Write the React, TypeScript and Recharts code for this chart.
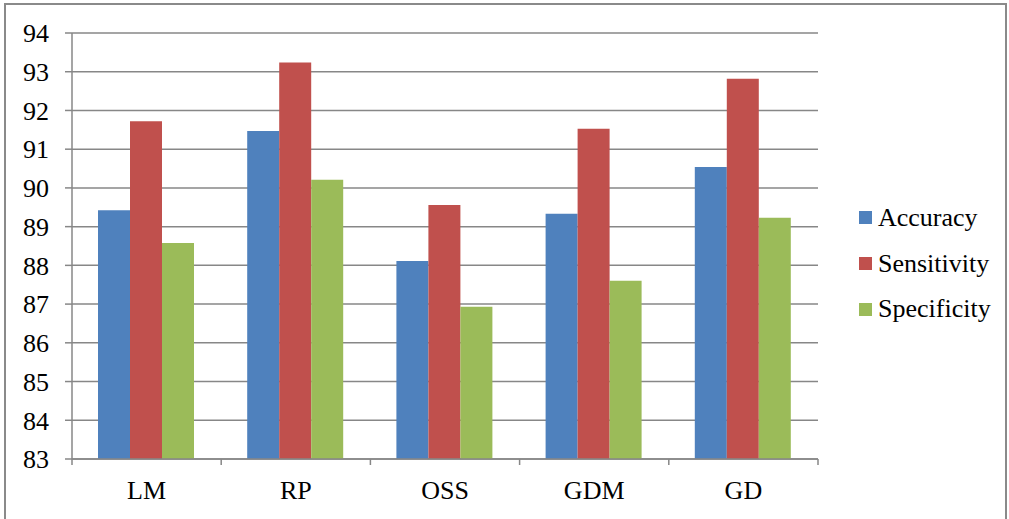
import React from 'react';
import { BarChart, Bar, XAxis, YAxis, CartesianGrid } from 'recharts';

const categories = ['LM', 'RP', 'OSS', 'GDM', 'GD'];
const accuracy = [89.42, 91.47, 88.11, 89.33, 90.54];
const sensitivity = [91.72, 93.24, 89.56, 91.53, 92.82];
const specificity = [88.58, 90.21, 86.93, 87.6, 89.23];
const yTicks = [83, 84, 85, 86, 87, 88, 89, 90, 91, 92, 93, 94];
const seriesNames = ['Accuracy', 'Sensitivity', 'Specificity'];
const seriesColors = ['#4F81BD', '#C0504D', '#9BBB59'];

const data = categories.map((c, i) => ({
  name: c,
  Accuracy: accuracy[i],
  Sensitivity: sensitivity[i],
  Specificity: specificity[i],
}));

const FONT = '"Liberation Serif", "Times New Roman", serif';
const GRID = '#878787';

const XTick = (props: any) => {
  const { x, y, payload, index, visibleTicksCount } = props;
  const half = payload && payload.offset ? payload.offset : 74.6;
  const axisY = y - 22;
  return (
    <g>
      <line x1={x - half} x2={x - half} y1={axisY} y2={axisY + 6} stroke={GRID} strokeWidth={1.5} />
      {index === (visibleTicksCount ?? categories.length) - 1 && (
        <line x1={x + half} x2={x + half} y1={axisY} y2={axisY + 6} stroke={GRID} strokeWidth={1.5} />
      )}
      <text x={x} y={y} dy="0.71em" textAnchor="middle" fill="#000" fontFamily={FONT} fontSize={26}>
        {payload.value}
      </text>
    </g>
  );
};

export default function App() {
  return (
    <div style={{ position: 'absolute', left: 0, top: 0, width: 1009, height: 519, background: '#fff', overflow: 'hidden' }}>
      <div
        style={{
          position: 'absolute',
          left: 4,
          top: 3,
          width: 1003,
          height: 600,
          border: '2px solid #8a8a8a',
          boxSizing: 'border-box',
        }}
      />
      <div style={{ position: 'absolute', left: 0, top: 0 }}>
        <BarChart
          width={1009}
          height={519}
          data={data}
          margin={{ top: 33, right: 191, bottom: 20, left: 0 }}
          barCategoryGap={26}
          barGap={0}
        >
          <CartesianGrid horizontal vertical={false} stroke={GRID} strokeWidth={1.5} />
          <XAxis
            dataKey="name"
            height={40}
            axisLine={{ stroke: GRID, strokeWidth: 1.5 }}
            tickLine={{ stroke: 'none' }}
            tickSize={6}
            tickMargin={16}
            tick={<XTick />}
            interval={0}
          />
          <YAxis
            width={72}
            domain={[83, 94]}
            ticks={yTicks}
            interval={0}
            allowDataOverflow
            axisLine={{ stroke: GRID, strokeWidth: 1.5 }}
            tickLine={{ stroke: GRID, strokeWidth: 1.5 }}
            tickSize={7}
            tickMargin={16}
            tick={{ fill: '#000', fontFamily: FONT, fontSize: 26 }}
          />
          {seriesNames.map((s, i) => (
            <Bar key={s} dataKey={s} fill={seriesColors[i]} isAnimationActive={false} />
          ))}
        </BarChart>
      </div>
      <div style={{ position: 'absolute', left: 859, top: 195, fontFamily: FONT, fontSize: 26, color: '#000' }}>
        {seriesNames.map((s, i) => (
          <div key={s} style={{ height: 45.7, display: 'flex', alignItems: 'center' }}>
            <span style={{ display: 'inline-block', width: 13, height: 13, background: seriesColors[i], marginRight: 6 }} />
            <span style={{ lineHeight: '26px', whiteSpace: 'nowrap' }}>{s}</span>
          </div>
        ))}
      </div>
    </div>
  );
}
